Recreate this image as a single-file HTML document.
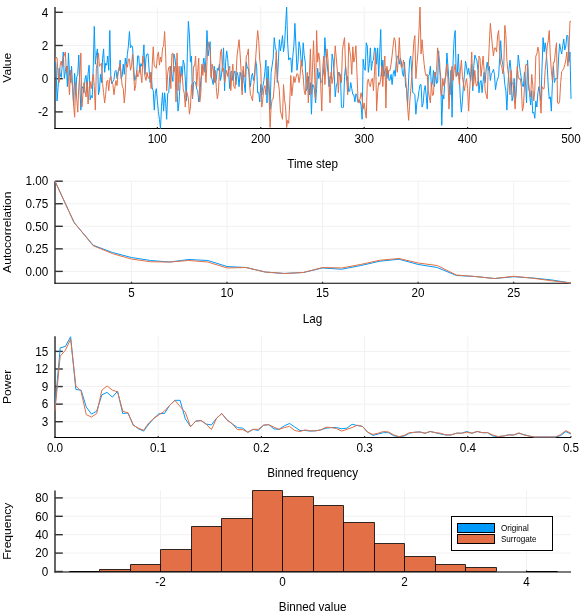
<!DOCTYPE html>
<html><head><meta charset="utf-8"><style>html,body{margin:0;padding:0;background:#fff;width:588px;height:612px;overflow:hidden}svg{display:block;will-change:transform}</style></head><body>
<svg width="588" height="612" viewBox="0 0 588 612" font-family='"Liberation Sans", sans-serif' font-size="11.7" fill="#000">
<rect width="588" height="612" fill="#fff"/>
<line x1="55.0" y1="111.9" x2="571.0" y2="111.9" stroke="#f1f1f1" stroke-width="1"/>
<line x1="55.0" y1="78.7" x2="571.0" y2="78.7" stroke="#f1f1f1" stroke-width="1"/>
<line x1="55.0" y1="45.5" x2="571.0" y2="45.5" stroke="#f1f1f1" stroke-width="1"/>
<line x1="55.0" y1="12.3" x2="571.0" y2="12.3" stroke="#f1f1f1" stroke-width="1"/>
<line x1="157.37" y1="7" x2="157.37" y2="128.5" stroke="#f1f1f1" stroke-width="1"/>
<line x1="260.78" y1="7" x2="260.78" y2="128.5" stroke="#f1f1f1" stroke-width="1"/>
<line x1="364.19" y1="7" x2="364.19" y2="128.5" stroke="#f1f1f1" stroke-width="1"/>
<line x1="467.59" y1="7" x2="467.59" y2="128.5" stroke="#f1f1f1" stroke-width="1"/>
<line x1="55.0" y1="271.4" x2="571.0" y2="271.4" stroke="#f1f1f1" stroke-width="1"/>
<line x1="55.0" y1="248.85" x2="571.0" y2="248.85" stroke="#f1f1f1" stroke-width="1"/>
<line x1="55.0" y1="226.3" x2="571.0" y2="226.3" stroke="#f1f1f1" stroke-width="1"/>
<line x1="55.0" y1="203.75" x2="571.0" y2="203.75" stroke="#f1f1f1" stroke-width="1"/>
<line x1="55.0" y1="181.2" x2="571.0" y2="181.2" stroke="#f1f1f1" stroke-width="1"/>
<line x1="131.44" y1="181.2" x2="131.44" y2="283.25" stroke="#f1f1f1" stroke-width="1"/>
<line x1="227" y1="181.2" x2="227" y2="283.25" stroke="#f1f1f1" stroke-width="1"/>
<line x1="322.56" y1="181.2" x2="322.56" y2="283.25" stroke="#f1f1f1" stroke-width="1"/>
<line x1="418.11" y1="181.2" x2="418.11" y2="283.25" stroke="#f1f1f1" stroke-width="1"/>
<line x1="513.67" y1="181.2" x2="513.67" y2="283.25" stroke="#f1f1f1" stroke-width="1"/>
<line x1="55.0" y1="421.72" x2="571.0" y2="421.72" stroke="#f1f1f1" stroke-width="1"/>
<line x1="55.0" y1="404.14" x2="571.0" y2="404.14" stroke="#f1f1f1" stroke-width="1"/>
<line x1="55.0" y1="386.56" x2="571.0" y2="386.56" stroke="#f1f1f1" stroke-width="1"/>
<line x1="55.0" y1="368.98" x2="571.0" y2="368.98" stroke="#f1f1f1" stroke-width="1"/>
<line x1="55.0" y1="351.4" x2="571.0" y2="351.4" stroke="#f1f1f1" stroke-width="1"/>
<line x1="158.2" y1="336.3" x2="158.2" y2="437.5" stroke="#f1f1f1" stroke-width="1"/>
<line x1="261.4" y1="336.3" x2="261.4" y2="437.5" stroke="#f1f1f1" stroke-width="1"/>
<line x1="364.6" y1="336.3" x2="364.6" y2="437.5" stroke="#f1f1f1" stroke-width="1"/>
<line x1="467.8" y1="336.3" x2="467.8" y2="437.5" stroke="#f1f1f1" stroke-width="1"/>
<line x1="55.0" y1="571.5" x2="571.0" y2="571.5" stroke="#f1f1f1" stroke-width="1"/>
<line x1="55.0" y1="553.1" x2="571.0" y2="553.1" stroke="#f1f1f1" stroke-width="1"/>
<line x1="55.0" y1="534.7" x2="571.0" y2="534.7" stroke="#f1f1f1" stroke-width="1"/>
<line x1="55.0" y1="516.3" x2="571.0" y2="516.3" stroke="#f1f1f1" stroke-width="1"/>
<line x1="55.0" y1="497.9" x2="571.0" y2="497.9" stroke="#f1f1f1" stroke-width="1"/>
<line x1="160.5" y1="490.4" x2="160.5" y2="571.5" stroke="#f1f1f1" stroke-width="1"/>
<line x1="282.5" y1="490.4" x2="282.5" y2="571.5" stroke="#f1f1f1" stroke-width="1"/>
<line x1="404.5" y1="490.4" x2="404.5" y2="571.5" stroke="#f1f1f1" stroke-width="1"/>
<line x1="526.5" y1="490.4" x2="526.5" y2="571.5" stroke="#f1f1f1" stroke-width="1"/>
<path d="M55.0 7V129" fill="none" stroke="#000" stroke-width="1.2"/>
<path d="M54.5 128.5H571.0" fill="none" stroke="#000" stroke-width="1.15"/>
<line x1="55.0" y1="111.9" x2="62.8" y2="111.9" stroke="#333333" stroke-width="1.4"/>
<text transform="translate(48.3 116.1) scale(1 1.08)" text-anchor="end">-2</text>
<line x1="55.0" y1="78.7" x2="62.8" y2="78.7" stroke="#333333" stroke-width="1.4"/>
<text transform="translate(48.3 82.9) scale(1 1.08)" text-anchor="end">0</text>
<line x1="55.0" y1="45.5" x2="62.8" y2="45.5" stroke="#333333" stroke-width="1.4"/>
<text transform="translate(48.3 49.7) scale(1 1.08)" text-anchor="end">2</text>
<line x1="55.0" y1="12.3" x2="62.8" y2="12.3" stroke="#333333" stroke-width="1.4"/>
<text transform="translate(48.3 16.5) scale(1 1.08)" text-anchor="end">4</text>
<line x1="157.37" y1="128.5" x2="157.37" y2="127" stroke="#333333" stroke-width="1.2"/>
<text transform="translate(157.37 142.7) scale(1 1.08)" text-anchor="middle">100</text>
<line x1="260.78" y1="128.5" x2="260.78" y2="127" stroke="#333333" stroke-width="1.2"/>
<text transform="translate(260.78 142.7) scale(1 1.08)" text-anchor="middle">200</text>
<line x1="364.19" y1="128.5" x2="364.19" y2="127" stroke="#333333" stroke-width="1.2"/>
<text transform="translate(364.19 142.7) scale(1 1.08)" text-anchor="middle">300</text>
<line x1="467.59" y1="128.5" x2="467.59" y2="127" stroke="#333333" stroke-width="1.2"/>
<text transform="translate(467.59 142.7) scale(1 1.08)" text-anchor="middle">400</text>
<line x1="571" y1="128.5" x2="571" y2="127" stroke="#333333" stroke-width="1.2"/>
<text transform="translate(571 142.7) scale(1 1.08)" text-anchor="middle">500</text>
<text transform="translate(312.6 167.8) scale(1 1.08)" text-anchor="middle">Time step</text>
<text transform="translate(11.1 67.75) rotate(-90) scale(1.035 1)" text-anchor="middle">Value</text>
<path d="M55.0 181.2V283.75" fill="none" stroke="#000" stroke-width="1.2"/>
<path d="M54.5 283.25H571.0" fill="none" stroke="#000" stroke-width="1.15"/>
<line x1="55.0" y1="271.4" x2="62.8" y2="271.4" stroke="#333333" stroke-width="1.4"/>
<text transform="translate(48.3 275.6) scale(1 1.08)" text-anchor="end">0.00</text>
<line x1="55.0" y1="248.85" x2="62.8" y2="248.85" stroke="#333333" stroke-width="1.4"/>
<text transform="translate(48.3 253.05) scale(1 1.08)" text-anchor="end">0.25</text>
<line x1="55.0" y1="226.3" x2="62.8" y2="226.3" stroke="#333333" stroke-width="1.4"/>
<text transform="translate(48.3 230.5) scale(1 1.08)" text-anchor="end">0.50</text>
<line x1="55.0" y1="203.75" x2="62.8" y2="203.75" stroke="#333333" stroke-width="1.4"/>
<text transform="translate(48.3 207.95) scale(1 1.08)" text-anchor="end">0.75</text>
<line x1="55.0" y1="181.2" x2="62.8" y2="181.2" stroke="#333333" stroke-width="1.4"/>
<text transform="translate(48.3 185.4) scale(1 1.08)" text-anchor="end">1.00</text>
<line x1="131.44" y1="283.25" x2="131.44" y2="281.75" stroke="#333333" stroke-width="1.2"/>
<text transform="translate(131.44 297.45) scale(1 1.08)" text-anchor="middle">5</text>
<line x1="227" y1="283.25" x2="227" y2="281.75" stroke="#333333" stroke-width="1.2"/>
<text transform="translate(227 297.45) scale(1 1.08)" text-anchor="middle">10</text>
<line x1="322.56" y1="283.25" x2="322.56" y2="281.75" stroke="#333333" stroke-width="1.2"/>
<text transform="translate(322.56 297.45) scale(1 1.08)" text-anchor="middle">15</text>
<line x1="418.11" y1="283.25" x2="418.11" y2="281.75" stroke="#333333" stroke-width="1.2"/>
<text transform="translate(418.11 297.45) scale(1 1.08)" text-anchor="middle">20</text>
<line x1="513.67" y1="283.25" x2="513.67" y2="281.75" stroke="#333333" stroke-width="1.2"/>
<text transform="translate(513.67 297.45) scale(1 1.08)" text-anchor="middle">25</text>
<text transform="translate(312.6 322.55) scale(1 1.08)" text-anchor="middle">Lag</text>
<text transform="translate(11.1 232.22) rotate(-90) scale(1.035 1)" text-anchor="middle">Autocorrelation</text>
<path d="M55.0 336.3V438" fill="none" stroke="#000" stroke-width="1.2"/>
<path d="M54.5 437.5H571.0" fill="none" stroke="#000" stroke-width="1.15"/>
<line x1="55.0" y1="421.72" x2="62.8" y2="421.72" stroke="#333333" stroke-width="1.4"/>
<text transform="translate(48.3 425.92) scale(1 1.08)" text-anchor="end">3</text>
<line x1="55.0" y1="404.14" x2="62.8" y2="404.14" stroke="#333333" stroke-width="1.4"/>
<text transform="translate(48.3 408.34) scale(1 1.08)" text-anchor="end">6</text>
<line x1="55.0" y1="386.56" x2="62.8" y2="386.56" stroke="#333333" stroke-width="1.4"/>
<text transform="translate(48.3 390.76) scale(1 1.08)" text-anchor="end">9</text>
<line x1="55.0" y1="368.98" x2="62.8" y2="368.98" stroke="#333333" stroke-width="1.4"/>
<text transform="translate(48.3 373.18) scale(1 1.08)" text-anchor="end">12</text>
<line x1="55.0" y1="351.4" x2="62.8" y2="351.4" stroke="#333333" stroke-width="1.4"/>
<text transform="translate(48.3 355.6) scale(1 1.08)" text-anchor="end">15</text>
<line x1="55" y1="437.5" x2="55" y2="436" stroke="#333333" stroke-width="1.2"/>
<text transform="translate(55 451.7) scale(1 1.08)" text-anchor="middle">0.0</text>
<line x1="158.2" y1="437.5" x2="158.2" y2="436" stroke="#333333" stroke-width="1.2"/>
<text transform="translate(158.2 451.7) scale(1 1.08)" text-anchor="middle">0.1</text>
<line x1="261.4" y1="437.5" x2="261.4" y2="436" stroke="#333333" stroke-width="1.2"/>
<text transform="translate(261.4 451.7) scale(1 1.08)" text-anchor="middle">0.2</text>
<line x1="364.6" y1="437.5" x2="364.6" y2="436" stroke="#333333" stroke-width="1.2"/>
<text transform="translate(364.6 451.7) scale(1 1.08)" text-anchor="middle">0.3</text>
<line x1="467.8" y1="437.5" x2="467.8" y2="436" stroke="#333333" stroke-width="1.2"/>
<text transform="translate(467.8 451.7) scale(1 1.08)" text-anchor="middle">0.4</text>
<line x1="571" y1="437.5" x2="571" y2="436" stroke="#333333" stroke-width="1.2"/>
<text transform="translate(571 451.7) scale(1 1.08)" text-anchor="middle">0.5</text>
<text transform="translate(312.6 476.8) scale(1 1.08)" text-anchor="middle">Binned frequency</text>
<text transform="translate(11.1 386.9) rotate(-90) scale(1.035 1)" text-anchor="middle">Power</text>
<path d="M55.0 490.4V572.5" fill="none" stroke="#000" stroke-width="1.2"/>
<path d="M54.5 572H571.0" fill="none" stroke="#000" stroke-width="1.15"/>
<line x1="55.0" y1="571.5" x2="62.8" y2="571.5" stroke="#333333" stroke-width="1.4"/>
<text transform="translate(48.3 575.7) scale(1 1.08)" text-anchor="end">0</text>
<line x1="55.0" y1="553.1" x2="62.8" y2="553.1" stroke="#333333" stroke-width="1.4"/>
<text transform="translate(48.3 557.3) scale(1 1.08)" text-anchor="end">20</text>
<line x1="55.0" y1="534.7" x2="62.8" y2="534.7" stroke="#333333" stroke-width="1.4"/>
<text transform="translate(48.3 538.9) scale(1 1.08)" text-anchor="end">40</text>
<line x1="55.0" y1="516.3" x2="62.8" y2="516.3" stroke="#333333" stroke-width="1.4"/>
<text transform="translate(48.3 520.5) scale(1 1.08)" text-anchor="end">60</text>
<line x1="55.0" y1="497.9" x2="62.8" y2="497.9" stroke="#333333" stroke-width="1.4"/>
<text transform="translate(48.3 502.1) scale(1 1.08)" text-anchor="end">80</text>
<line x1="160.5" y1="572" x2="160.5" y2="570.5" stroke="#333333" stroke-width="1.2"/>
<text transform="translate(160.5 586.2) scale(1 1.08)" text-anchor="middle">-2</text>
<line x1="282.5" y1="572" x2="282.5" y2="570.5" stroke="#333333" stroke-width="1.2"/>
<text transform="translate(282.5 586.2) scale(1 1.08)" text-anchor="middle">0</text>
<line x1="404.5" y1="572" x2="404.5" y2="570.5" stroke="#333333" stroke-width="1.2"/>
<text transform="translate(404.5 586.2) scale(1 1.08)" text-anchor="middle">2</text>
<line x1="526.5" y1="572" x2="526.5" y2="570.5" stroke="#333333" stroke-width="1.2"/>
<text transform="translate(526.5 586.2) scale(1 1.08)" text-anchor="middle">4</text>
<text transform="translate(312.6 611.3) scale(1 1.08)" text-anchor="middle">Binned value</text>
<text transform="translate(11.1 531.2) rotate(-90) scale(1.035 1)" text-anchor="middle">Frequency</text>
<defs><clipPath id="c1"><rect x="55.0" y="6.0" width="517.0" height="123.0"/></clipPath></defs>
<g clip-path="url(#c1)">
<polyline points="55.00,56.06 56.03,66.22 57.07,100.92 58.10,87.42 59.14,68.27 60.17,73.93 61.20,77.45 62.24,65.85 63.27,51.94 64.31,78.47 65.34,71.22 66.37,66.22 67.41,86.63 68.44,52.96 69.48,73.01 70.51,82.55 71.55,66.22 72.58,86.80 73.61,105.00 74.65,73.37 75.68,94.80 76.72,76.89 77.75,74.39 78.78,55.00 79.82,83.46 80.85,110.10 81.89,88.73 82.92,86.63 83.95,92.76 84.99,79.09 86.02,75.41 87.06,90.71 88.09,73.56 89.12,65.20 90.16,99.90 91.19,95.54 92.23,97.86 93.26,66.22 94.29,26.43 95.33,64.18 96.36,55.15 97.40,48.88 98.43,94.80 99.46,89.95 100.50,74.39 101.53,82.55 102.57,58.71 103.60,48.88 104.64,72.35 105.67,63.24 106.70,65.20 107.74,56.02 108.77,70.31 109.81,30.51 110.84,78.47 111.87,83.90 112.91,81.53 113.94,79.49 114.98,71.46 116.01,70.31 117.04,78.47 118.08,72.04 119.11,71.03 120.15,60.10 121.18,78.47 122.21,75.88 123.25,64.18 124.28,74.39 125.32,58.06 126.35,66.22 127.38,54.39 128.42,45.82 129.45,31.53 130.49,47.86 131.52,45.58 132.56,46.84 133.59,66.22 134.62,80.51 135.66,78.28 136.69,72.35 137.73,55.81 138.76,56.02 139.79,72.35 140.83,63.62 141.86,66.22 142.90,58.69 143.93,44.80 144.96,74.39 146.00,57.36 147.03,53.98 148.07,53.98 149.10,69.87 150.13,82.55 151.17,72.35 152.20,87.75 153.24,90.71 154.27,110.10 155.30,93.34 156.34,88.67 157.37,100.92 158.41,111.68 159.44,119.29 160.47,128.47 161.51,106.54 162.54,92.76 163.58,111.12 164.61,92.76 165.65,103.31 166.68,119.29 167.71,93.32 168.75,92.76 169.78,75.41 170.82,66.22 171.85,75.57 172.88,81.53 173.92,53.98 174.95,58.06 175.99,68.54 177.02,90.71 178.05,111.12 179.09,101.71 180.12,82.55 181.16,66.22 182.19,76.43 183.22,60.11 184.26,64.18 185.29,78.73 186.33,100.92 187.36,52.36 188.39,21.33 189.43,34.92 190.46,62.14 191.50,56.02 192.53,98.88 193.57,82.71 194.60,81.53 195.63,82.55 196.67,88.89 197.70,90.71 198.74,101.94 199.77,95.86 200.80,80.51 201.84,70.31 202.87,65.41 203.91,58.06 204.94,72.35 205.97,58.08 207.01,30.51 208.04,56.02 209.08,48.83 210.11,41.73 211.14,76.43 212.18,79.82 213.21,84.59 214.25,66.22 215.28,82.55 216.31,79.31 217.35,68.27 218.38,70.30 219.42,64.18 220.45,80.51 221.48,74.88 222.52,65.20 223.55,47.86 224.59,90.71 225.62,62.37 226.66,50.92 227.69,58.39 228.72,74.39 229.76,88.67 230.79,72.35 231.83,71.03 232.86,80.51 233.89,73.37 234.93,70.96 235.96,84.59 237.00,72.35 238.03,75.51 239.06,86.63 240.10,72.35 241.13,76.45 242.17,90.71 243.20,70.31 244.23,83.44 245.27,92.76 246.30,62.14 247.34,68.13 248.37,68.27 249.40,77.53 250.44,86.63 251.47,76.43 252.51,73.26 253.54,80.51 254.58,75.09 255.61,60.10 256.64,66.22 257.68,92.76 258.71,92.21 259.75,101.94 260.78,84.59 261.81,94.80 262.85,86.31 263.88,80.51 264.92,71.68 265.95,60.10 266.98,102.96 268.02,66.22 269.05,84.40 270.09,109.08 271.12,72.35 272.15,65.54 273.19,58.06 274.22,37.65 275.26,47.08 276.29,50.92 277.32,82.55 278.36,61.79 279.39,39.69 280.43,50.92 281.46,44.21 282.49,35.61 283.53,51.94 284.56,44.64 285.60,25.41 286.63,7.04 287.67,43.29 288.70,60.10 289.73,58.06 290.77,58.06 291.80,72.35 292.84,56.02 293.87,45.82 294.90,23.37 295.94,45.82 296.97,70.31 298.01,62.14 299.04,41.73 300.07,47.26 301.11,60.10 302.14,66.22 303.18,42.76 304.21,55.27 305.24,62.14 306.28,90.71 307.31,88.60 308.35,76.43 309.38,94.80 310.41,82.55 311.45,114.18 312.48,84.59 313.52,85.09 314.55,90.71 315.59,102.96 316.62,88.26 317.65,68.27 318.69,78.47 319.72,72.35 320.76,82.80 321.79,81.53 322.82,75.50 323.86,68.27 324.89,37.65 325.93,56.02 326.96,61.37 327.99,72.35 329.03,86.63 330.06,76.53 331.10,78.47 332.13,53.98 333.16,60.02 334.20,74.39 335.23,96.84 336.27,86.08 337.30,82.55 338.33,72.35 339.37,75.14 340.40,74.39 341.44,107.04 342.47,108.09 343.51,107.04 344.54,76.43 345.57,66.22 346.61,80.48 347.64,76.43 348.68,91.73 349.71,91.19 350.74,82.55 351.78,88.67 352.81,94.47 353.85,94.80 354.88,101.93 355.91,93.78 356.95,95.82 357.98,102.31 359.02,99.90 360.05,100.92 361.08,105.15 362.12,119.29 363.15,59.08 364.19,67.55 365.22,70.31 366.25,42.76 367.29,45.82 368.32,72.35 369.36,63.34 370.39,47.86 371.42,70.31 372.46,60.92 373.49,60.10 374.53,47.86 375.56,48.41 376.60,64.18 377.63,47.86 378.66,76.43 379.70,53.09 380.73,29.49 381.77,76.43 382.80,60.10 383.83,76.43 384.87,70.85 385.90,68.27 386.94,78.47 387.97,70.31 389.00,80.51 390.04,79.85 391.07,74.39 392.11,84.59 393.14,74.11 394.17,70.31 395.21,76.43 396.24,61.61 397.28,56.02 398.31,56.23 399.34,64.18 400.38,58.06 401.41,62.14 402.45,73.15 403.48,76.43 404.52,62.14 405.55,86.63 406.58,88.42 407.62,105.00 408.65,78.47 409.69,59.53 410.72,56.02 411.75,72.35 412.79,92.76 413.82,93.21 414.86,94.80 415.89,114.18 416.92,102.35 417.96,98.88 418.99,90.71 420.03,84.78 421.06,84.59 422.09,107.04 423.13,103.43 424.16,90.71 425.20,85.61 426.23,95.91 427.26,109.08 428.30,76.43 429.33,74.60 430.37,66.22 431.40,86.63 432.43,82.90 433.47,70.31 434.50,86.63 435.54,72.35 436.57,83.51 437.61,82.55 438.64,50.92 439.67,69.58 440.71,76.43 441.74,125.41 442.78,94.80 443.81,98.88 444.84,79.00 445.88,76.43 446.91,52.96 447.95,66.22 448.98,81.73 450.01,94.80 451.05,70.31 452.08,117.24 453.12,60.10 454.15,38.60 455.18,30.51 456.22,76.43 457.25,74.71 458.29,53.98 459.32,76.43 460.35,98.88 461.39,112.14 462.42,100.72 463.46,84.59 464.49,74.39 465.53,61.12 466.56,66.97 467.59,74.39 468.63,68.27 469.66,75.15 470.70,80.51 471.73,64.18 472.76,90.71 473.80,65.74 474.83,55.00 475.87,58.06 476.90,60.26 477.93,70.31 478.97,92.76 480.00,82.77 481.04,80.51 482.07,92.76 483.10,81.40 484.14,72.35 485.17,82.55 486.21,68.83 487.24,62.14 488.27,70.31 489.31,66.22 490.34,80.51 491.38,73.55 492.41,72.35 493.44,69.29 494.48,74.41 495.51,89.69 496.55,82.55 497.58,79.11 498.62,76.43 499.65,58.06 500.68,40.71 501.72,59.07 502.75,64.18 503.79,72.35 504.82,84.45 505.85,90.71 506.89,110.10 507.92,86.63 508.96,69.38 509.99,60.10 511.02,70.31 512.06,100.92 513.09,96.04 514.13,78.47 515.16,102.96 516.19,92.64 517.23,74.39 518.26,55.00 519.30,63.94 520.33,72.35 521.36,78.47 522.40,86.12 523.43,86.63 524.47,72.35 525.50,81.83 526.54,102.96 527.57,60.10 528.60,82.55 529.64,94.56 530.67,105.00 531.71,90.71 532.74,113.16 533.77,112.11 534.81,118.27 535.84,100.92 536.88,107.04 537.91,92.76 538.94,86.63 539.98,94.27 541.01,100.92 542.05,66.22 543.08,37.65 544.11,51.94 545.15,42.76 546.18,50.58 547.22,66.22 548.25,86.63 549.28,98.88 550.32,96.84 551.35,111.12 552.39,83.42 553.42,66.22 554.45,82.55 555.49,78.47 556.52,78.62 557.56,78.47 558.59,58.06 559.63,43.78 560.66,49.59 561.69,53.98 562.73,45.82 563.76,39.05 564.80,49.90 565.83,45.82 566.86,35.35 567.90,35.61 568.93,62.14 569.97,51.94 571.00,98.88" fill="none" stroke="#009afa" stroke-width="1.0" stroke-linejoin="round"/>
<polyline points="55.00,62.17 56.03,57.04 57.07,58.06 58.10,75.30 59.14,82.55 60.17,65.53 61.20,61.12 62.24,66.22 63.27,58.06 64.31,55.30 65.34,51.94 66.37,72.35 67.41,66.22 68.44,77.60 69.48,94.80 70.51,70.31 71.55,80.64 72.58,86.63 73.61,104.95 74.65,117.24 75.68,82.55 76.72,99.14 77.75,112.14 78.78,86.63 79.82,75.21 80.85,52.96 81.89,107.04 82.92,95.19 83.95,82.55 84.99,90.71 86.02,97.01 87.06,81.53 88.09,103.98 89.12,88.34 90.16,81.53 91.19,88.67 92.23,81.20 93.26,74.39 94.29,86.50 95.33,110.10 96.36,68.27 97.40,61.91 98.43,52.96 99.46,66.22 100.50,65.20 101.53,63.16 102.57,83.43 103.60,92.76 104.64,102.96 105.67,94.34 106.70,81.53 107.74,80.15 108.77,90.71 109.81,78.47 110.84,76.48 111.87,82.55 112.91,84.59 113.94,94.80 114.98,86.71 116.01,80.51 117.04,85.61 118.08,71.92 119.11,67.24 120.15,64.18 121.18,76.43 122.21,85.85 123.25,88.67 124.28,102.96 125.32,91.14 126.35,64.18 127.38,67.24 128.42,59.08 129.45,59.18 130.49,70.31 131.52,65.55 132.56,53.98 133.59,72.40 134.62,90.71 135.66,85.61 136.69,70.31 137.73,77.02 138.76,74.39 139.79,66.22 140.83,74.10 141.86,82.55 142.90,56.02 143.93,64.12 144.96,76.43 146.00,80.51 147.03,72.35 148.07,77.70 149.10,78.47 150.13,72.35 151.17,88.67 152.20,65.58 153.24,46.84 154.27,66.22 155.30,66.66 156.34,68.27 157.37,56.29 158.41,51.94 159.44,65.20 160.47,56.98 161.51,62.14 162.54,47.86 163.58,46.34 164.61,31.53 165.65,53.98 166.68,90.71 167.71,73.37 168.75,67.27 169.78,66.22 170.82,88.67 171.85,53.98 172.88,52.96 173.92,72.35 174.95,66.22 175.99,101.94 177.02,52.96 178.05,90.71 179.09,66.22 180.12,82.55 181.16,73.48 182.19,74.39 183.22,88.67 184.26,93.24 185.29,107.04 186.33,90.71 187.36,93.66 188.39,98.88 189.43,114.18 190.46,106.84 191.50,84.59 192.53,97.86 193.57,66.22 194.60,66.23 195.63,56.02 196.67,86.63 197.70,71.54 198.74,58.06 199.77,101.94 200.80,93.81 201.84,64.18 202.87,75.41 203.91,64.06 204.94,67.24 205.97,82.55 207.01,61.39 208.04,41.73 209.08,48.01 210.11,48.88 211.14,77.45 212.18,64.23 213.21,70.31 214.25,82.55 215.28,70.31 216.31,87.47 217.35,98.88 218.38,92.23 219.42,72.35 220.45,52.94 221.48,48.88 222.52,71.33 223.55,68.27 224.59,82.55 225.62,75.74 226.66,70.31 227.69,76.43 228.72,70.16 229.76,66.22 230.79,90.71 231.83,74.79 232.86,64.18 233.89,86.63 234.93,88.56 235.96,78.47 237.00,56.02 238.03,48.18 239.06,39.69 240.10,53.98 241.13,71.65 242.17,94.80 243.20,66.22 244.23,76.98 245.27,76.43 246.30,56.02 247.34,54.61 248.37,48.88 249.40,82.55 250.44,94.80 251.47,96.63 252.51,100.92 253.54,86.63 254.58,78.33 255.61,59.08 256.64,43.78 257.68,30.51 258.71,40.58 259.75,60.10 260.78,68.27 261.81,107.04 262.85,98.59 263.88,88.67 264.92,85.64 265.95,94.80 266.98,78.47 268.02,80.96 269.05,94.80 270.09,127.45 271.12,107.04 272.15,99.23 273.19,98.88 274.22,86.63 275.26,70.87 276.29,51.94 277.32,78.47 278.36,82.69 279.39,90.71 280.43,111.12 281.46,115.10 282.49,119.29 283.53,84.59 284.56,99.72 285.60,107.04 286.63,127.45 287.67,120.36 288.70,123.37 289.73,102.96 290.77,75.41 291.80,95.82 292.84,86.07 293.87,76.43 294.90,82.55 295.94,77.45 296.97,73.59 298.01,74.39 299.04,82.55 300.07,76.29 301.11,60.10 302.14,68.27 303.18,75.95 304.21,90.71 305.24,94.80 306.28,83.53 307.31,72.35 308.35,102.96 309.38,75.15 310.41,48.88 311.45,94.80 312.48,69.37 313.52,40.71 314.55,72.05 315.59,98.88 316.62,30.51 317.65,62.14 318.69,52.87 319.72,60.10 320.76,86.12 321.79,111.12 322.82,66.22 323.86,56.02 324.89,84.59 325.93,66.46 326.96,48.88 327.99,60.10 329.03,84.31 330.06,102.96 331.10,72.35 332.13,83.52 333.16,76.43 334.20,65.56 335.23,45.82 336.27,58.06 337.30,69.93 338.33,92.76 339.37,72.35 340.40,77.66 341.44,82.55 342.47,49.90 343.51,42.86 344.54,37.65 345.57,66.22 346.61,76.74 347.64,94.80 348.68,42.76 349.71,49.90 350.74,57.48 351.78,74.39 352.81,46.84 353.85,62.14 354.88,57.29 355.91,45.82 356.95,72.35 357.98,98.88 359.02,103.14 360.05,98.88 361.08,92.76 362.12,98.09 363.15,109.08 364.19,102.96 365.22,111.18 366.25,118.27 367.29,82.55 368.32,79.14 369.36,84.59 370.39,86.63 371.42,79.97 372.46,78.47 373.49,90.71 374.53,71.22 375.56,51.94 376.60,111.12 377.63,92.62 378.66,82.55 379.70,84.59 380.73,79.08 381.77,66.22 382.80,86.63 383.83,67.19 384.87,56.02 385.90,108.06 386.94,66.22 387.97,74.39 389.00,70.26 390.04,70.31 391.07,64.18 392.11,55.35 393.14,45.82 394.17,37.65 395.21,40.28 396.24,58.06 397.28,72.35 398.31,59.47 399.34,37.65 400.38,62.14 401.41,67.73 402.45,66.22 403.48,60.10 404.52,68.05 405.55,77.11 406.58,89.69 407.62,107.03 408.65,120.31 409.69,102.88 410.72,90.71 411.75,76.43 412.79,59.08 413.82,42.07 414.86,35.61 415.89,78.47 416.92,64.44 417.96,51.94 418.99,30.49 420.03,7.04 421.06,53.98 422.09,39.69 423.13,53.55 424.16,64.18 425.20,72.35 426.23,76.02 427.26,74.39 428.30,90.71 429.33,97.28 430.37,102.96 431.40,82.55 432.43,95.49 433.47,94.80 434.50,72.35 435.54,75.25 436.57,70.31 437.61,47.86 438.64,56.55 439.67,62.14 440.71,90.71 441.74,95.82 442.78,78.47 443.81,85.87 444.84,83.57 445.88,71.97 446.91,64.18 447.95,78.47 448.98,109.08 450.01,90.36 451.05,71.33 452.08,66.22 453.12,80.51 454.15,70.44 455.18,64.18 456.22,76.43 457.25,74.93 458.29,72.35 459.32,84.59 460.35,71.13 461.39,60.10 462.42,76.43 463.46,84.11 464.49,90.71 465.53,82.55 466.56,78.66 467.59,88.67 468.63,111.12 469.66,90.16 470.70,74.39 471.73,51.94 472.76,86.63 473.80,84.23 474.83,70.31 475.87,83.57 476.90,86.24 477.93,80.51 478.97,56.02 480.00,58.06 481.04,76.43 482.07,66.53 483.10,56.02 484.14,70.31 485.17,90.71 486.21,94.72 487.24,98.88 488.27,66.22 489.31,43.78 490.34,23.37 491.38,34.73 492.41,45.82 493.44,56.02 494.48,47.86 495.51,47.97 496.55,51.94 497.58,35.61 498.62,30.51 499.65,51.54 500.68,64.18 501.72,66.22 502.75,73.78 503.79,66.22 504.82,25.41 505.85,34.57 506.89,60.10 507.92,70.31 508.96,78.73 509.99,94.80 511.02,70.31 512.06,82.96 513.09,84.59 514.13,96.84 515.16,109.08 516.19,82.89 517.23,66.22 518.26,76.43 519.30,79.29 520.33,78.47 521.36,86.63 522.40,111.12 523.43,106.63 524.47,86.63 525.50,65.20 526.54,64.03 527.57,66.22 528.60,88.67 529.64,91.92 530.67,96.84 531.71,74.39 532.74,84.75 533.77,100.92 534.81,90.71 535.84,56.02 536.88,53.98 537.91,47.07 538.94,51.94 539.98,96.84 541.01,113.16 542.05,86.63 543.08,88.84 544.11,88.67 545.15,70.31 546.18,59.74 547.22,45.82 548.25,40.71 549.28,30.51 550.32,56.02 551.35,70.68 552.39,80.51 553.42,62.14 554.45,62.14 555.49,50.26 556.52,42.76 557.56,102.96 558.59,103.92 559.63,100.92 560.66,82.55 561.69,71.58 562.73,70.31 563.76,68.27 564.80,64.66 565.83,60.10 566.86,51.94 567.90,66.22 568.93,51.94 569.97,21.33 571.00,21.33" fill="none" stroke="#e26f46" stroke-width="1.0" stroke-linejoin="round"/>
</g>
<polyline points="55.00,181.20 74.11,222.51 93.22,245.24 112.33,252.46 131.44,257.51 150.56,260.49 169.67,262.02 188.78,259.49 207.89,260.49 227.00,266.53 246.11,267.52 265.22,272.03 284.33,273.47 303.44,272.48 322.56,267.97 341.67,269.24 360.78,265.54 379.89,261.21 399.00,259.22 418.11,264.45 437.22,267.52 456.33,275.46 475.44,276.54 494.56,278.53 513.67,276.72 532.78,277.98 551.89,279.97 571.00,283.04" fill="none" stroke="#009afa" stroke-width="1.0" stroke-linejoin="round"/>
<polyline points="55.00,181.20 74.11,222.51 93.22,245.78 112.33,253.54 131.44,259.04 150.56,261.75 169.67,262.02 188.78,260.49 207.89,262.02 227.00,267.97 246.11,267.52 265.22,272.03 284.33,273.47 303.44,272.48 322.56,267.52 341.67,267.97 360.78,264.45 379.89,260.22 399.00,258.50 418.11,263.01 437.22,265.54 456.33,275.01 475.44,276.54 494.56,278.53 513.67,276.27 532.78,278.26 551.89,280.78 571.00,283.04" fill="none" stroke="#e26f46" stroke-width="1.0" stroke-linejoin="round"/>
<polyline points="55.00,406.48 60.21,347.88 65.42,346.42 70.64,336.75 75.85,389.49 81.06,390.08 86.27,407.07 91.48,414.10 96.70,411.17 101.91,394.76 107.12,392.42 112.33,397.11 117.55,391.25 122.76,413.52 127.97,412.93 133.18,424.65 138.39,428.75 143.61,431.10 148.82,424.06 154.03,418.20 159.24,413.52 164.45,413.52 169.67,405.31 174.88,400.33 180.09,400.33 185.30,418.79 190.52,426.70 195.73,421.13 200.94,420.55 206.15,424.06 211.36,424.94 216.58,418.20 221.79,413.52 227.00,419.96 232.21,423.77 237.42,427.58 242.64,428.17 247.85,432.27 253.06,429.34 258.27,430.51 263.48,425.24 268.70,424.65 273.91,428.93 279.12,429.34 284.33,425.82 289.55,423.48 294.76,426.99 299.97,430.51 305.18,430.51 310.39,431.10 315.61,430.80 320.82,429.92 326.03,428.17 331.24,427.58 336.45,427.58 341.67,428.75 346.88,428.17 352.09,424.30 357.30,425.53 362.52,426.41 367.73,432.27 372.94,435.37 378.15,434.03 383.36,432.68 388.58,432.68 393.79,435.78 399.00,436.72 404.21,436.02 409.42,433.21 414.64,432.27 419.85,431.98 425.06,433.21 430.27,431.51 435.48,432.68 440.70,434.03 445.91,435.02 451.12,434.91 456.33,433.21 461.55,433.21 466.76,431.51 471.97,433.21 477.18,431.51 482.39,432.68 487.61,432.68 492.82,436.02 498.03,436.60 503.24,436.02 508.45,434.91 513.67,434.91 518.88,433.32 524.09,434.61 529.30,436.08 534.52,437.01 539.73,437.01 544.94,437.01 550.15,437.01 555.36,437.01 560.58,435.61 565.79,431.56 571.00,434.03" fill="none" stroke="#009afa" stroke-width="1.0" stroke-linejoin="round"/>
<polyline points="55.00,410.59 60.21,356.09 65.42,350.23 70.64,339.09 75.85,385.97 81.06,391.25 86.27,414.69 91.48,417.03 96.70,413.52 101.91,390.08 107.12,385.97 112.33,390.08 117.55,391.83 122.76,411.17 127.97,412.93 133.18,425.24 138.39,428.17 143.61,430.22 148.82,422.89 154.03,418.20 159.24,414.69 164.45,411.17 169.67,405.31 174.88,400.33 180.09,406.48 185.30,412.34 190.52,426.70 195.73,421.13 200.94,420.55 206.15,424.06 211.36,429.63 216.58,418.20 221.79,413.52 227.00,419.96 232.21,423.77 237.42,429.63 242.64,429.63 247.85,432.27 253.06,429.34 258.27,429.34 263.48,425.24 268.70,424.65 273.91,427.23 279.12,429.34 284.33,427.58 289.55,426.41 294.76,430.51 299.97,431.51 305.18,429.92 310.39,430.80 315.61,430.80 320.82,429.92 326.03,427.23 331.24,427.58 336.45,428.46 341.67,431.10 346.88,429.34 352.09,427.58 357.30,425.24 362.52,426.41 367.73,432.27 372.94,434.38 378.15,433.21 383.36,431.51 388.58,431.98 393.79,434.91 399.00,436.72 404.21,435.37 409.42,432.68 414.64,432.27 419.85,431.98 425.06,433.21 430.27,431.51 435.48,432.68 440.70,433.21 445.91,435.02 451.12,434.91 456.33,433.21 461.55,433.21 466.76,432.27 471.97,433.21 477.18,431.51 482.39,432.68 487.61,432.68 492.82,434.91 498.03,436.60 503.24,436.02 508.45,434.91 513.67,435.08 518.88,432.85 524.09,435.08 529.30,436.08 534.52,437.01 539.73,437.01 544.94,437.01 550.15,437.01 555.36,437.01 560.58,434.61 565.79,430.63 571.00,433.32" fill="none" stroke="#e26f46" stroke-width="1.0" stroke-linejoin="round"/>
<path d="M69.5 571.5V571.5H99.5V571.5Z" fill="#e26f46" stroke="#000" stroke-width="0.8"/>
<path d="M99.5 571.5V569.5H130.5V571.5Z" fill="#e26f46" stroke="#000" stroke-width="0.8"/>
<path d="M130.5 571.5V564.5H160.5V571.5Z" fill="#e26f46" stroke="#000" stroke-width="0.8"/>
<path d="M160.5 571.5V549.5H191.5V571.5Z" fill="#e26f46" stroke="#000" stroke-width="0.8"/>
<path d="M191.5 571.5V526.5H221.5V571.5Z" fill="#e26f46" stroke="#000" stroke-width="0.8"/>
<path d="M221.5 571.5V518.5H252.5V571.5Z" fill="#e26f46" stroke="#000" stroke-width="0.8"/>
<path d="M252.5 571.5V490.5H282.5V571.5Z" fill="#e26f46" stroke="#000" stroke-width="0.8"/>
<path d="M282.5 571.5V496.5H313.5V571.5Z" fill="#e26f46" stroke="#000" stroke-width="0.8"/>
<path d="M313.5 571.5V505.5H343.5V571.5Z" fill="#e26f46" stroke="#000" stroke-width="0.8"/>
<path d="M343.5 571.5V522.5H374.5V571.5Z" fill="#e26f46" stroke="#000" stroke-width="0.8"/>
<path d="M374.5 571.5V543.5H404.5V571.5Z" fill="#e26f46" stroke="#000" stroke-width="0.8"/>
<path d="M404.5 571.5V556.5H435.5V571.5Z" fill="#e26f46" stroke="#000" stroke-width="0.8"/>
<path d="M435.5 571.5V564.5H465.5V571.5Z" fill="#e26f46" stroke="#000" stroke-width="0.8"/>
<path d="M465.5 571.5V567.5H496.5V571.5Z" fill="#e26f46" stroke="#000" stroke-width="0.8"/>
<path d="M526.5 571.5V571.5H557.5V571.5Z" fill="#e26f46" stroke="#000" stroke-width="0.8"/>
<rect x="451.5" y="516.5" width="101" height="34" fill="#fff" stroke="#000" stroke-width="1"/>
<rect x="457.5" y="523.5" width="37" height="9" fill="#009afa" stroke="#000" stroke-width="1"/>
<rect x="457.5" y="534.5" width="37" height="9" fill="#e26f46" stroke="#000" stroke-width="1"/>
<text transform="translate(500.9 531.3) scale(1 1.08)" font-size="8.1">Original</text>
<text transform="translate(500.9 541.9) scale(1 1.08)" font-size="8.1">Surrogate</text>
</svg>
</body></html>
